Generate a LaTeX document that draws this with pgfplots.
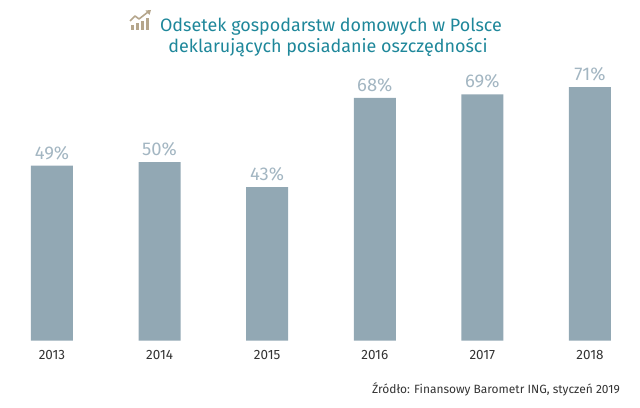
\documentclass[border=0pt]{standalone}
\usepackage{fontspec}
\setmainfont{Fira Sans}
\usepackage{pgfplots}
\pgfplotsset{compat=1.18}
\definecolor{barc}{HTML}{92A8B4}
\definecolor{labc}{HTML}{A3B6C2}
\definecolor{titc}{HTML}{1E879A}
\definecolor{icoc}{HTML}{B5A68C}
\definecolor{txtc}{HTML}{333333}
\begin{document}
\begin{tikzpicture}[x=1bp,y=1bp]
\useasboundingbox (0,0) rectangle (640,407);
\begin{axis}[
  at={(0bp,66.3bp)}, anchor=south west,
  scale only axis, width=640bp, height=340.7bp,
  xmin=-0.483, xmax=5.465, ymin=0, ymax=95.4,
  axis line style={draw=none},
  ytick=\empty,
  xtick=data,
  xticklabels={2013,2014,2015,2016,2017,2018},
  major tick length=0pt,
  x tick label style={font=\fontsize{13.5}{14}\selectfont, text=txtc, anchor=base, yshift=-18.6bp},
  ybar, bar width=42bp,
  nodes near coords={\pgfmathprintnumber[assume math mode=true]{\pgfplotspointmeta}\%},
  nodes near coords style={font=\fontsize{18.5}{20}\selectfont, text=labc, anchor=base, inner sep=0pt, yshift=6.7bp},
  clip=false,
]
\addplot[fill=barc, draw=none] coordinates {(0,49) (1,50) (2,43) (3,68) (4,69) (5,71)};
\end{axis}
% title
\node[anchor=base, text=titc, font=\fontsize{18}{20}\selectfont, inner sep=0pt] at (331,375.5) {Odsetek gospodarstw domowych w Polsce};
\node[anchor=base, text=titc, font=\fontsize{18}{20}\selectfont, inner sep=0pt] at (328,354.5) {deklarujących posiadanie oszczędności};
% icon
\fill[icoc] (130.5,377) rectangle (133.5,382);
\fill[icoc] (135.5,377) rectangle (138.5,384);
\fill[icoc] (140.5,377) rectangle (143.5,386);
\fill[icoc] (145.5,377) rectangle (148.5,389);
\draw[icoc, line width=1.6bp, line join=round] (130,386) -- (135,391) -- (139,388) -- (148,395);
\fill[icoc] (151,397) -- (145.5,396.5) -- (149.5,392) -- cycle;
% source
\node[anchor=base east, text=txtc, font=\fontsize{12}{14}\selectfont, inner sep=0pt] at (620,13.7) {Źródło: Finansowy Barometr ING, styczeń 2019};
\end{tikzpicture}
\end{document}
